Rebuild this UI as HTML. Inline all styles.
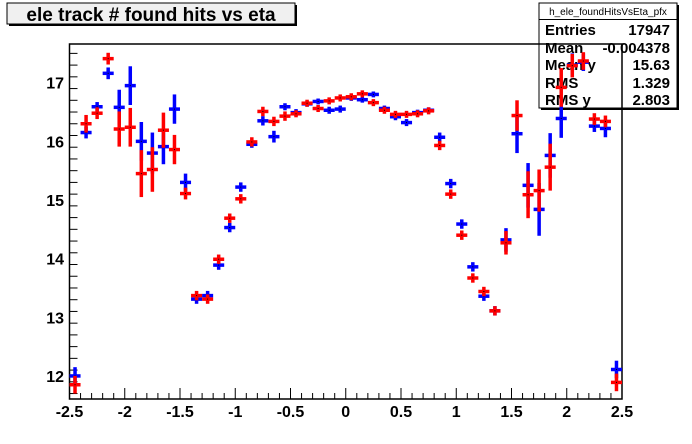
<!DOCTYPE html>
<html><head><meta charset="utf-8"><style>
body{margin:0;background:#fff;}
svg{display:block;font-family:"Liberation Sans",Arial,sans-serif;}
</style></head><body>
<svg id="chart" width="692" height="444" viewBox="0 0 692 444" xmlns="http://www.w3.org/2000/svg">
<rect width="692" height="444" fill="#fff"/>
<g id="title">
<rect x="9" y="5" width="288" height="21" fill="#000"/>
<rect x="7" y="3" width="288" height="21" fill="#f0f0f0" stroke="#000" stroke-width="1"/>
<text x="151" y="21" text-anchor="middle" font-size="19" font-weight="bold">ele track # found hits vs eta</text>
</g>
<g id="stats">
<rect x="541" y="5" width="138" height="105" fill="#000"/>
<rect x="539" y="3" width="138" height="105" fill="#fff" stroke="#000" stroke-width="1"/>
<line x1="539" y1="19.5" x2="677" y2="19.5" stroke="#000"/>
<text x="608" y="15" text-anchor="middle" font-size="10">h_ele_foundHitsVsEta_pfx</text>
<g font-size="15" font-weight="bold">
<text x="545" y="35">Entries</text><text x="670" y="35" text-anchor="end">17947</text>
<text x="545" y="53">Mean</text><text x="670" y="53" text-anchor="end">-0.004378</text>
<text x="545" y="70">Mean y</text><text x="670" y="70" text-anchor="end">15.63</text>
<text x="545" y="88">RMS</text><text x="670" y="88" text-anchor="end">1.329</text>
<text x="545" y="105">RMS y</text><text x="670" y="105" text-anchor="end">2.803</text>
</g>
</g>
<rect x="69.5" y="44" width="552.5" height="355" fill="none" stroke="#000" stroke-width="1.5"/>
<g id="axes"></g>
<g id="series-blue"></g>
<g id="series-red"></g>
</svg>
<script>
const binCenters=[-2.45,-2.35,-2.25,-2.15,-2.05,-1.95,-1.85,-1.75,-1.65,-1.55,-1.45,-1.35,-1.25,-1.15,-1.05,-0.95,-0.85,-0.75,-0.65,-0.55,-0.45,-0.35,-0.25,-0.15,-0.05,0.05,0.15,0.25,0.35,0.45,0.55,0.65,0.75,0.85,0.95,1.05,1.15,1.25,1.35,1.45,1.55,1.65,1.75,1.85,1.95,2.05,2.15,2.25,2.35,2.45];
const blueValues=[12.0,16.15,16.59,17.16,16.58,16.95,16.0,15.8,15.91,16.55,15.3,13.31,13.37,13.89,14.53,15.22,15.95,16.35,16.08,16.59,16.49,16.64,16.68,16.53,16.55,16.74,16.71,16.8,16.56,16.42,16.32,16.49,16.53,16.07,15.28,14.59,13.86,13.36,13.11,14.32,16.13,15.25,14.84,15.76,16.39,17.3,17.35,16.26,16.22,12.11];
const blueErrors=[0.15,0.1,0.08,0.1,0.3,0.33,0.33,0.35,0.3,0.25,0.15,0.08,0.08,0.08,0.08,0.08,0.06,0.08,0.1,0.06,0.06,0.05,0.05,0.06,0.06,0.05,0.05,0.05,0.05,0.06,0.06,0.05,0.05,0.08,0.08,0.08,0.08,0.08,0.08,0.2,0.33,0.38,0.45,0.38,0.33,0.2,0.15,0.1,0.15,0.15];
const redValues=[11.85,16.3,16.48,17.41,16.21,16.24,15.45,15.52,16.19,15.86,15.11,13.37,13.31,13.99,14.69,15.02,15.99,16.51,16.34,16.43,16.47,16.65,16.56,16.69,16.74,16.76,16.81,16.66,16.53,16.46,16.46,16.47,16.52,15.93,15.1,14.4,13.67,13.44,13.11,14.27,16.44,15.09,15.16,15.56,16.92,17.29,17.37,16.38,16.34,11.89];
const redErrors=[0.15,0.15,0.1,0.1,0.3,0.33,0.4,0.38,0.3,0.25,0.1,0.08,0.08,0.08,0.08,0.08,0.08,0.08,0.08,0.08,0.06,0.06,0.06,0.06,0.06,0.06,0.06,0.06,0.06,0.06,0.06,0.06,0.06,0.08,0.08,0.08,0.08,0.08,0.08,0.2,0.26,0.4,0.36,0.4,0.33,0.2,0.15,0.1,0.1,0.15];
const xTickLabels=[-2.5,-2,-1.5,-1,-0.5,0,0.5,1,1.5,2,2.5];
const yTickLabels=[12,13,14,15,16,17];
const binWidth=0.1;
const NS="http://www.w3.org/2000/svg";
const X0=69.5,X1=622,Y0=399,Y1=44;
function xScale(v){return X0+(v+2.5)*(X1-X0)/5;}
function yScale(v){return 82.7-(v-17)*58.65;}
function mk(tag,attrs,parent){const e=document.createElementNS(NS,tag);for(const k in attrs)e.setAttribute(k,attrs[k]);parent.appendChild(e);return e;}
const axes=document.getElementById('axes');
for(let i=0;i<=50;i++){const v=-2.5+i*0.1;const major=i%5===0;
const t=mk('line',{x1:xScale(v),x2:xScale(v),y1:Y0,y2:Y0-(major?11:6),stroke:'#000','stroke-width':1},axes);

}
xTickLabels.forEach(v=>{const t=mk('text',{x:xScale(v),y:417,'text-anchor':'middle','font-size':16,'font-weight':'bold'},axes);t.textContent=String(v);

});
for(let v=11.7;v<=17.66;v+=0.2){const vv=Math.round(v*10)/10;const major=Math.abs(vv-Math.round(vv))<1e-6;const y=yScale(vv);if(y<Y1||y>Y0)continue;
const t=mk('line',{x1:X0,x2:X0+(major?16:8),y1:y,y2:y,stroke:'#000','stroke-width':1},axes);

}
yTickLabels.forEach(v=>{const t=mk('text',{x:64,y:yScale(v)+6,'text-anchor':'end','font-size':16,'font-weight':'bold'},axes);t.textContent=String(v);

});
function drawSeries(gid,vals,errs,color,name){const g=document.getElementById(gid);
binCenters.forEach((c,i)=>{const x=xScale(c),y=yScale(vals[i]);
const grp=mk('g',{},g);


mk('line',{x1:xScale(c-binWidth/2),x2:xScale(c+binWidth/2),y1:y,y2:y,stroke:color,'stroke-width':3.5},grp);
mk('line',{x1:x,x2:x,y1:yScale(vals[i]+errs[i]),y2:yScale(vals[i]-errs[i]),stroke:color,'stroke-width':3.5},grp);
mk('rect',{x:x-0.5,y:y-0.5,width:1,height:1,fill:'#000'},grp);});}
drawSeries('series-blue',blueValues,blueErrors,'#0000ff','blue');
drawSeries('series-red',redValues,redErrors,'#ff0000','red');
</script>
</body></html>
